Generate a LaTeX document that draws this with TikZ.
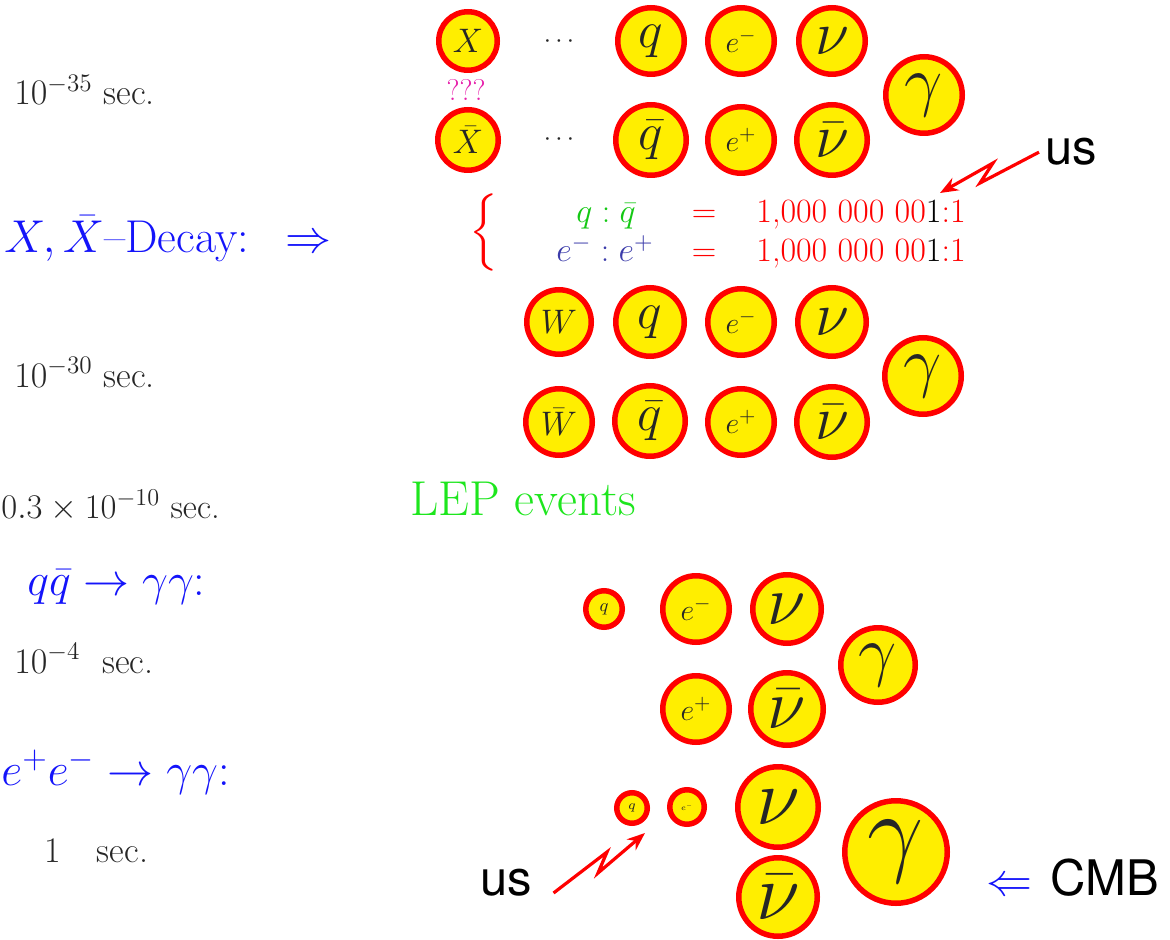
\RequirePackage{fix-cm}
\documentclass[tikz,border=0pt]{standalone}
\usepackage{fontspec}
\usepackage{graphicx}
\usepackage{xcolor}
\usepackage{tikz}
\usetikzlibrary{arrows.meta,positioning}
\newfontfamily\helv{TeX Gyre Heros}
\definecolor{partyellow}{RGB}{255,238,0}
\definecolor{procblue}{RGB}{20,20,250}
\definecolor{lepgreen}{RGB}{30,230,30}
\definecolor{qgreen}{RGB}{20,200,20}
\definecolor{eslate}{RGB}{60,60,170}
\definecolor{doubtpink}{RGB}{230,30,170}

\begin{document}
\begin{tikzpicture}[
  x=0.5pt, y=-0.5pt,
  part/.style 2 args={circle, draw=red, fill=partyellow, line width=2.75pt, inner sep=0pt, text=black!85, minimum size=#1, font=\fontsize{#2}{#2}\selectfont},
  timetxt/.style={anchor=base west, inner sep=0pt, text=black!85, font=\fontsize{18}{21}\selectfont},
  proc/.style={anchor=base west, inner sep=0pt, text=procblue, font=\fontsize{23}{27}\selectfont},
  ratio/.style={anchor=base, inner sep=0pt, font=\fontsize{17}{20}\selectfont},
  sans/.style={anchor=base west, inner sep=0pt, text=black, font=\helv\fontsize{24.5}{28}\selectfont},
  zap/.style={-{Stealth[length=9pt,width=7pt]}, red, line width=1.6pt}
]
\useasboundingbox (0,0) rectangle (1170,940);

\node[timetxt] (tsec35) at (14,105) {$10^{-35}$ sec.};
\node[proc] (decay) at (4,253) {$X,\bar X$--Decay:\hspace{0.8em}$\Rightarrow$};
\node[timetxt] (tsec30) at (14,387) {$10^{-30}$ sec.};
\node[timetxt, font=\fontsize{17.3}{20}\selectfont] (tsec10) at (1,518) {$0.3\times10^{-10}$ sec.};
\node[proc] (qqgg) at (27,595) {$q\bar q\rightarrow\gamma\gamma$:};
\node[timetxt] (tsec4) at (14,673) {$10^{-4}$\ \ sec.};
\node[proc] (eegg) at (1,785) {$e^+e^-\rightarrow\gamma\gamma$:};
\node[timetxt] (tsec1) at (44,862) {1\quad sec.};

\node[part={29.25pt}{17}] (X) at (468,41) {$X$};
\node[part={30.25pt}{17}] (Xbar) at (468,140) {$\bar X$};
\node[anchor=base, inner sep=0pt, text=doubtpink, font=\fontsize{15}{17}\selectfont] (doubt) at (466,101) {???};
\node[anchor=base, inner sep=0pt, text=black!85, font=\fontsize{13}{15}\selectfont] (dotsup) at (559,48) {$\cdots$};
\node[anchor=base, inner sep=0pt, text=black!85, font=\fontsize{13}{15}\selectfont] (dotsdown) at (559,146) {$\cdots$};
\node[part={33.25pt}{26}] (qa) at (651,41) {$q$};
\node[part={35.25pt}{26}] (qbara) at (651,140) {$\bar q$};
\node[part={33.25pt}{15}] (ema) at (741,41) {$e^-$};
\node[part={33.25pt}{15}] (epa) at (741,140) {$e^+$};
\node[part={33.25pt}{31}] (nua) at (832,41) {$\nu$};
\node[part={35.25pt}{31}] (nubara) at (832,140) {$\bar\nu$};
\node[part={38.25pt}{34}] (gammaa) at (924,95) {$\gamma$};

\node[inner sep=0pt, text=red] (brace) at (484,232) {\scalebox{2.15}{$\Big\{$}};
\node[ratio, text=qgreen] (qratio) at (606,223) {$q:\bar q$};
\node[ratio, text=eslate] (eratio) at (605,262) {$e^-:e^+$};
\node[ratio, text=red] (qeq) at (704,223) {$=$};
\node[ratio, text=red] (eeq) at (704,262) {$=$};
\node[ratio, anchor=base west, text=black] (qnum) at (756,223) {\textcolor{red}{1,000 000 00}1\textcolor{red}{:1}};
\node[ratio, anchor=base west, text=black] (enum) at (756,262) {\textcolor{red}{1,000 000 00}1\textcolor{red}{:1}};
\node[sans] (usup) at (1045,165) {us};
\coordinate (zupa) at (980,183);
\coordinate (zupb) at (993,163);
\coordinate (onetip) at (940,193);
\draw[zap] ([xshift=-3pt]usup.west) -- (zupa) -- (zupb) -- (onetip);

\node[part={32.25pt}{17}] (W) at (559,322) {$W$};
\node[part={33.25pt}{17}] (Wbar) at (559,422) {$\bar W$};
\node[part={34.25pt}{26}] (qb) at (650,322) {$q$};
\node[part={35.25pt}{26}] (qbarb) at (650,421) {$\bar q$};
\node[part={33.25pt}{15}] (emb) at (741,322) {$e^-$};
\node[part={33.25pt}{15}] (epb) at (741,422) {$e^+$};
\node[part={34.25pt}{31}] (nub) at (832,322) {$\nu$};
\node[part={35.25pt}{31}] (nubarb) at (832,422) {$\bar\nu$};
\node[part={38.25pt}{34}] (gammab) at (923,376) {$\gamma$};

\node[anchor=base west, inner sep=0pt, text=lepgreen, font=\fontsize{24.5}{29}\selectfont] (lep) at (410,515) {LEP events};

\node[part={18.25pt}{9}] (qc) at (604,609) {$q$};
\node[part={33.25pt}{15}] (emc) at (696,609) {$e^-$};
\node[part={34.25pt}{35}] (nuc) at (787,609) {$\nu$};
\node[part={33.25pt}{15}] (epc) at (696,709) {$e^+$};
\node[part={36.25pt}{35}] (nubarc) at (787,709) {$\bar\nu$};
\node[part={37.25pt}{34}] (gammac) at (878,665) {$\gamma$};

\node[part={15.25pt}{6.5}] (qd) at (632,808) {$q$};
\node[part={17.25pt}{4}] (ed) at (687,807) {$e^-$};
\node[part={40.25pt}{40}] (nud) at (778,807) {$\nu$};
\node[part={39.25pt}{40}] (nubard) at (778,897) {$\bar\nu$};
\node[part={51.25pt}{50}] (gammad) at (896,852) {$\gamma$};

\node[sans] (usdown) at (480,895) {us};
\coordinate (zdowna) at (607,852);
\coordinate (zdownb) at (598,873);
\coordinate (qtip) at (645,833);
\draw[zap] ([shift={(21,-2)}]usdown.base east) -- (zdowna) -- (zdownb) -- (qtip);
\node[anchor=base west, inner sep=0pt, text=procblue, font=\fontsize{23}{27}\selectfont] (cmbarrow) at (986,895) {$\Leftarrow$};
\node[sans] (cmb) at (1050,895) {CMB};
\end{tikzpicture}
\end{document}
